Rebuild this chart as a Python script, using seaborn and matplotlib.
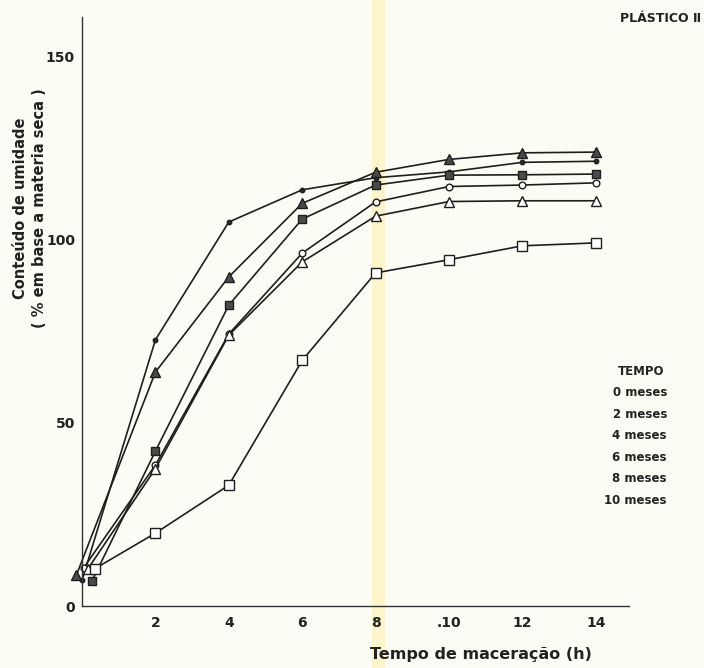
import numpy as np
import pandas as pd
import matplotlib
matplotlib.use('Agg')
import matplotlib.pyplot as plt
from matplotlib.patches import Rectangle
import seaborn as sns

# horas de maceracao (pontos comuns) e ponto inicial de cada curva
horas = [2, 4, 6, 8, 10, 12, 14]

inicio_h = {'pontos': 0.0, 'tri_cheio': -0.15, 'quad_cheio': 0.27,
            'circ_aberto': 0.05, 'tri_aberto': 0.15, 'quad_aberto': 0.35}
inicio_v = {'pontos': 7.0, 'tri_cheio': 8.5, 'quad_cheio': 6.8,
            'circ_aberto': 10.5, 'tri_aberto': 10.0, 'quad_aberto': 10.2}

pontos = [72.7, 104.9, 113.7, 117.0, 118.6, 121.2, 121.5]
tri_cheio = [63.9, 89.9, 110.0, 118.5, 122.0, 123.8, 124.0]
quad_cheio = [42.3, 82.2, 105.7, 115.0, 117.7, 117.8, 118.0]
circ_aberto = [38.5, 74.3, 96.4, 110.4, 114.6, 115.0, 115.6]
tri_aberto = [37.5, 74.0, 94.0, 106.5, 110.5, 110.7, 110.7]
quad_aberto = [19.9, 33.0, 67.1, 91.0, 94.6, 98.4, 99.2]

legenda_titulo = 'TEMPO'
legenda = ['0 meses', '2 meses', '4 meses', '6 meses', '8 meses', '10 meses']
x_ticks = [2, 4, 6, 8, 10, 12, 14]
x_labels = ['2', '4', '6', '8', '.10', '12', '14']
y_ticks = [0, 50, 100, 150]
y_labels = ['0', '50', '100', '150']

series = {'pontos': pontos, 'tri_cheio': tri_cheio, 'quad_cheio': quad_cheio,
          'circ_aberto': circ_aberto, 'tri_aberto': tri_aberto, 'quad_aberto': quad_aberto}

# estilo dos marcadores
estilos = {
    'pontos': dict(marker='o', markersize=3.2, markerfacecolor='#2a2a2a'),
    'tri_cheio': dict(marker='^', markersize=6.5, markerfacecolor='#4a4a4a'),
    'quad_cheio': dict(marker='s', markersize=5.5, markerfacecolor='#4a4a4a'),
    'circ_aberto': dict(marker='o', markersize=4.8, markerfacecolor='white'),
    'tri_aberto': dict(marker='^', markersize=7.5, markerfacecolor='white'),
    'quad_aberto': dict(marker='s', markersize=7, markerfacecolor='white'),
}

sns.set_style('white')
plt.rcParams['font.family'] = ['DejaVu Sans']
plt.rcParams['font.weight'] = 'bold'

bg = '#fdfcf4'
fig = plt.figure(figsize=(7.04, 6.68), dpi=100, facecolor=bg)
# faixa amarelada do scan
fig.patches.append(Rectangle((372 / 704, 0), 13 / 704, 1, transform=fig.transFigure,
                             facecolor='#fcf5cc', edgecolor='none', zorder=0))
ax = fig.add_axes([45.3 / 704, 1 - 635.3 / 668, 587.2 / 704, 622.3 / 668])
ax.set_facecolor('none')
ax.set_zorder(2)

for nome, valores in series.items():
    df = pd.DataFrame({'h': [inicio_h[nome]] + horas, 'v': [inicio_v[nome]] + valores})
    sns.lineplot(data=df, x='h', y='v', ax=ax, color='#1e1e1e', linewidth=1.2,
                 markeredgecolor='#1e1e1e', markeredgewidth=1.0, sort=False, **estilos[nome])

ax.set_xlim(-1, 15)
ax.set_ylim(-8, 162)
for s in ['top', 'right']:
    ax.spines[s].set_visible(False)
ax.spines['left'].set_position(('data', 0))
ax.spines['bottom'].set_position(('data', 0))
ax.spines['left'].set_bounds(0, 161)
ax.spines['bottom'].set_bounds(0, 14.9)
for s in ['left', 'bottom']:
    ax.spines[s].set_color('#333333')
    ax.spines[s].set_linewidth(1.0)

ax.set_xticks(x_ticks)
ax.set_xticklabels(x_labels, fontsize=10, fontweight='bold')
ax.set_yticks(y_ticks)
ax.set_yticklabels(y_labels, fontsize=10, fontweight='bold')
ax.tick_params(axis='x', direction='inout', length=7, width=1, pad=4, colors='#222222')
ax.tick_params(axis='y', direction='out', length=4, width=1, pad=1, colors='#222222')
ax.set_xlabel('')
ax.set_ylabel('')

fig.text(30 / 704, 1 - 208 / 668, 'Conteúdo de umidade\n( % em base a materia seca )',
         rotation=90, ha='center', va='center', fontsize=10.5, fontweight='bold',
         linespacing=1.35, color='#222222')
fig.text(592 / 704, 1 - 655 / 668, 'Tempo de maceração (h)', ha='right', va='center',
         fontsize=11.5, fontweight='bold', color='#222222')
fig.text(620 / 704, 1 - 18 / 668, 'PLÁSTICO Ⅱ', ha='left', va='center',
         fontsize=9, fontweight='bold', color='#222222')

fig.text(618 / 704, 1 - 372 / 668, legenda_titulo, ha='left', va='center',
         fontsize=8.5, fontweight='bold', color='#222222')
for i, txt in enumerate(legenda):
    fig.text(667 / 704, 1 - (393 + 21.4 * i) / 668, txt, ha='right', va='center',
             fontsize=8.5, fontweight='bold', color='#222222')

fig.savefig('out.png', dpi=100, facecolor=bg)
